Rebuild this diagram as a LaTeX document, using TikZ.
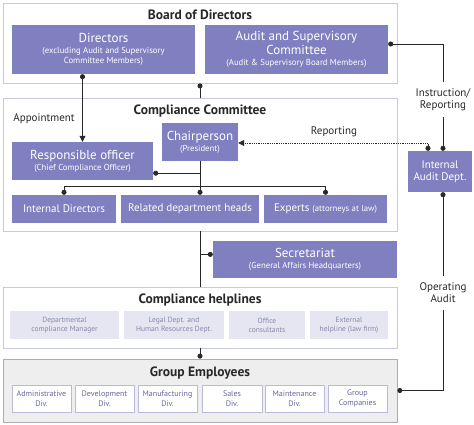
\documentclass[tikz,border=0pt]{standalone}
\usepackage{fontspec}
\setmainfont{PT Sans}
\usepackage{xcolor}
\usetikzlibrary{arrows.meta, positioning, calc}
\definecolor{Panel}{RGB}{128, 128, 192}
\definecolor{Frame}{RGB}{200, 200, 225}
\definecolor{Pale}{RGB}{230, 230, 242}
\definecolor{PaleText}{RGB}{135, 135, 170}
\definecolor{Grey}{RGB}{238, 238, 238}
\definecolor{Ink}{RGB}{40, 40, 40}

\tikzset{
  frame/.style={draw=Frame, thick, fill=white, inner sep=0pt},
  panel/.style={fill=Panel, text=white, inner sep=0pt, align=center, font=\fontsize{13}{14}\selectfont},
  smallpanel/.style={panel, font=\fontsize{11}{12.5}\selectfont},
  pale/.style={fill=Pale, text=PaleText, inner sep=0pt, align=center, font=\fontsize{7.5}{9}\selectfont},
  divbox/.style={draw=Frame!80!Panel, fill=white, text=Panel!80!black, inner sep=0pt, align=center, font=\fontsize{8}{9.5}\selectfont},
  title/.style={font=\fontsize{13.5}{15}\selectfont\bfseries, text=Ink},
  lbl/.style={font=\fontsize{11}{12}\selectfont, text=Ink, align=center},
  link/.style={draw=Ink, line width=0.8pt},
  dot/.tip={Circle[length=5pt]},
}
\newcommand{\subline}[1]{{\fontsize{8.7}{10}\selectfont #1}}

\begin{document}
\begin{tikzpicture}[x=1pt, y=-1pt]
\useasboundingbox (0,0) rectangle (474,425);

% Board of Directors
\node[frame, minimum width=394, minimum height=80] (board) at (200,43) {};
\node[title] (boardtitle) at (200,15) {Board of Directors};
\node[panel, minimum width=183, minimum height=49] (dir) at (103.5,49.5)
  {Directors\\[-3pt]\subline{(excluding Audit and Supervisory}\\[-4pt]\subline{Committee Members)}};
\node[panel, minimum width=183, minimum height=49] (audit) at (296.5,49.5)
  {Audit and Supervisory\\Committee\\[-3pt]\subline{(Audit \& Supervisory Board Members)}};

% Compliance Committee
\node[frame, minimum width=394, minimum height=133] (cc) at (200,164.5) {};
\node[title] (cctitle) at (200,111) {Compliance Committee};
\node[lbl] (appoint) at (44,119) {Appointment};
\node[panel, minimum width=141, minimum height=38] (resp) at (82.5,161)
  {Responsible officer\\[-3pt]\subline{(Chief Compliance Officer)}};
\node[panel, minimum width=76, minimum height=38] (chair) at (200,142)
  {Chairperson\\[-3pt]\subline{(President)}};
\node[smallpanel, minimum width=104, minimum height=28] (idir) at (64,209) {Internal Directors};
\node[smallpanel, minimum width=138, minimum height=28] (rel) at (190,209) {Related department heads};
\node[smallpanel, minimum width=123, minimum height=28] (exp) at (325.5,209) {Experts \subline{(attorneys at law)}};

% Internal Audit
\node[smallpanel, minimum width=64, minimum height=41] (iad) at (440,171.5) {Internal\\Audit Dept.};
\node[lbl, minimum height=35, inner sep=0pt] (instr) at (443,99.5) {Instruction/\\Reporting};
\node[lbl] (rep) at (334,132) {Reporting};
\node[lbl, minimum height=34, inner sep=0pt] (oper) at (443,293) {Operating\\Audit};

% Secretariat
\node[panel, minimum width=184, minimum height=37] (sec) at (305,259.5)
  {Secretariat\\[-3pt]\subline{(General Affairs Headquarters)}};

% Compliance helplines
\node[frame, minimum width=394, minimum height=61] (help) at (200,317.5) {};
\node[title] (helptitle) at (200,300) {Compliance helplines};
\node[pale, minimum width=109, minimum height=28] (h1) at (64.5,325) {Departmental\\compliance Manager};
\node[pale, minimum width=100, minimum height=28] (h2) at (174,325) {Legal Dept. and\\Human Resources Dept.};
\node[pale, minimum width=76, minimum height=28] (h3) at (267,325) {Office\\consultants};
\node[pale, minimum width=78, minimum height=28] (h4) at (349,325) {External\\helpline (law firm)};

% Group Employees
\node[frame, fill=Grey, draw=Frame!60!gray, minimum width=394, minimum height=63] (group) at (200,390.5) {};
\node[title] (grouptitle) at (200,373) {Group Employees};
\node[divbox, minimum width=59, minimum height=27] (g1) at (41.5,398.5) {Administrative\\Div.};
\node[divbox, minimum width=59, minimum height=27] (g2) at (104.5,398.5) {Development\\Div.};
\node[divbox, minimum width=59, minimum height=27] (g3) at (167.5,398.5) {Manufacturing\\Div.};
\node[divbox, minimum width=60, minimum height=27] (g4) at (232,398.5) {Sales\\Div.};
\node[divbox, minimum width=59, minimum height=27] (g5) at (294.5,398.5) {Maintenance\\Div.};
\node[divbox, minimum width=59, minimum height=27] (g6) at (357.5,398.5) {Group\\Companies};

% Connectors
\draw[link, dot-] (board.south) -- (cc.north);
\draw[link, dot-{Triangle[length=6pt,width=6pt]}] (resp.north |- dir.south) -- (resp.north);
\draw[link, dot-] ($(audit.east)+(0,-5.5)$) -| (instr.north);
\draw[link, -dot] (instr.south) -- (instr.south |- iad.north);
\draw[link, densely dotted, dot-{Triangle[length=6pt,width=6pt]}] ($(iad.north)+(-12,0)$) |- ($(chair.east)+(0,1)$);
\draw[link, -dot] (chair.south) -- (chair.south |- rel.north);
\coordinate (split) at ($(chair.south)+(0,12)$);
\draw[link, -dot] (split) -- (split -| resp.east);
\draw[link, dot-dot] (idir.north) -- ++(0,-8) -| (exp.north);
\draw[link, dot-] (instr.south |- iad.south) -- (oper.north);
\draw[link, -dot] (oper.south) |- (group.east);
\draw[link] (cc.south) -- (help.north);
\coordinate (branch) at ($(cc.south)+(0,23)$);
\draw[link, -dot] (branch) -- (branch -| sec.west);
\draw[link, -dot] (help.south) -- (group.north);

\end{tikzpicture}
\end{document}
